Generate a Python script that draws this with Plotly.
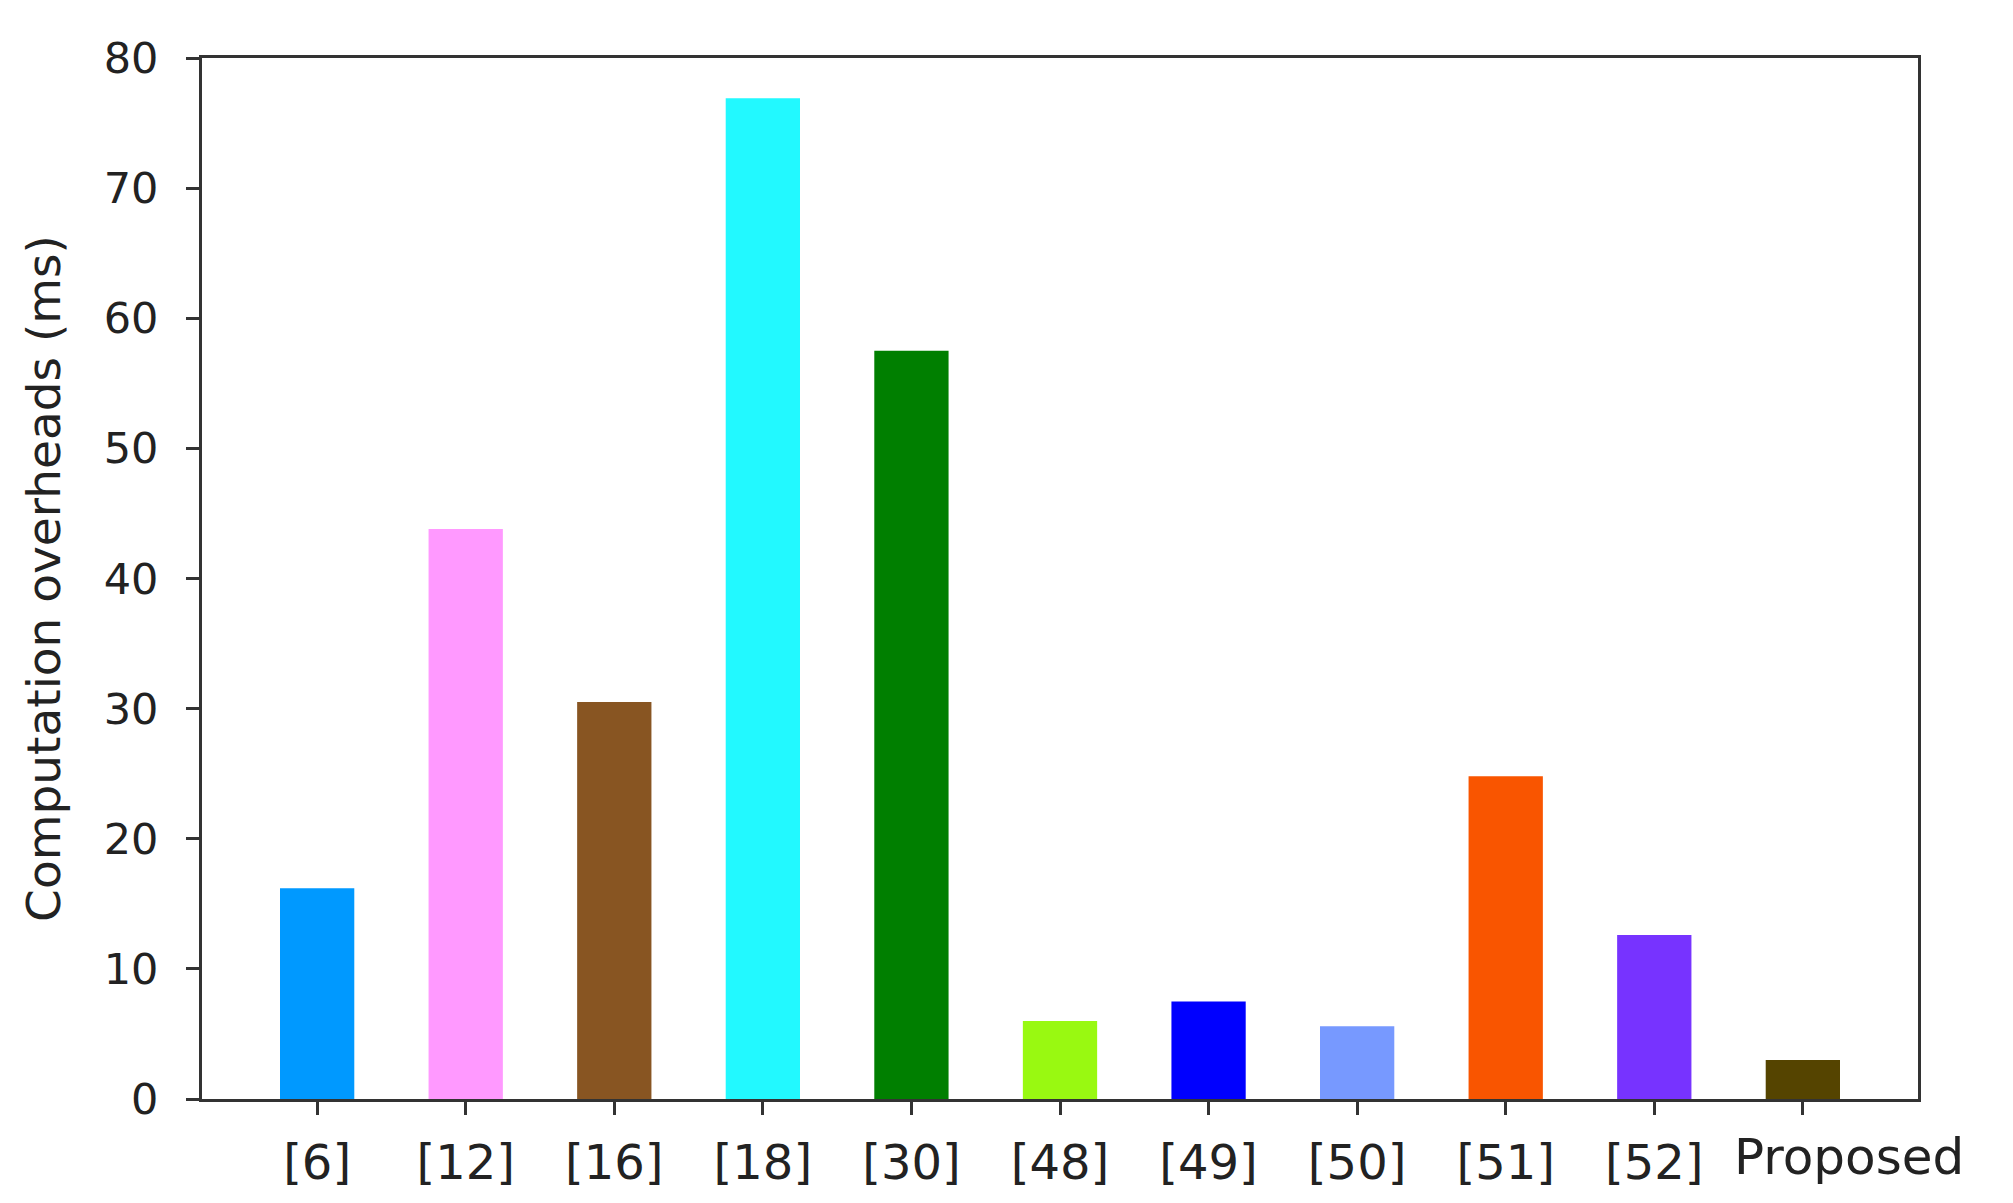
import plotly.graph_objects as go

categories = ["[6]", "[12]", "[16]", "[18]", "[30]", "[48]", "[49]", "[50]", "[51]", "[52]", "Proposed"]
overheads = [16.2, 43.8, 30.5, 76.9, 57.5, 6.0, 7.5, 5.6, 24.8, 12.6, 3.0]
bar_colors = ["#0099FF", "#FF99FF", "#885522", "#22F9FF", "#007F00", "#99F911",
              "#0000FF", "#7799FF", "#F95500", "#7733FF", "#554400"]
y_ticks = [0, 10, 20, 30, 40, 50, 60, 70, 80]

FONT = "DejaVu Sans"
TXT = "#222222"
AX = "#333333"

xpos = list(range(len(categories)))
fig = go.Figure(go.Bar(
    x=xpos,
    y=overheads,
    width=0.5,
    marker=dict(color=bar_colors, line=dict(width=0)),
))

# last label is drawn offset to the right (as in the reference) to avoid overlap
ticktext = categories[:-1] + [""]
fig.add_annotation(
    x=xpos[-1], y=0, xref="x", yref="y",
    text=categories[-1], showarrow=False,
    xanchor="center", yanchor="middle",
    xshift=46, yshift=-58,
    font=dict(size=50, family=FONT, color=TXT),
)

fig.update_layout(
    width=2013, height=1203,
    margin=dict(l=194, r=103, t=50, b=112),
    paper_bgcolor="white", plot_bgcolor="white",
    showlegend=False,
    font=dict(family=FONT, color=TXT),
)
fig.update_xaxes(
    range=[-0.775, len(categories) - 1 + 0.775],
    tickmode="array", tickvals=xpos, ticktext=ticktext,
    tickangle=0,
    ticks="outside", ticklen=13, tickwidth=3, tickcolor=AX,
    showline=True, linecolor=AX, linewidth=3, mirror=True,
    showgrid=False, zeroline=False, automargin=False,
    tickfont=dict(size=48, family=FONT, color=TXT),
    ticklabelstandoff=6,
)
fig.update_yaxes(
    range=[0, 80],
    tickmode="array", tickvals=y_ticks, ticktext=[str(v) for v in y_ticks],
    ticks="outside", ticklen=13, tickwidth=3, tickcolor=AX,
    showline=True, linecolor=AX, linewidth=3, mirror=True,
    showgrid=False, zeroline=False, automargin=False,
    tickfont=dict(size=43, family=FONT, color=TXT),
    ticklabelstandoff=19,
    title=dict(text="Computation overheads (ms)", font=dict(size=47, family=FONT, color=TXT), standoff=29),
)

fig.write_html("out.html")
